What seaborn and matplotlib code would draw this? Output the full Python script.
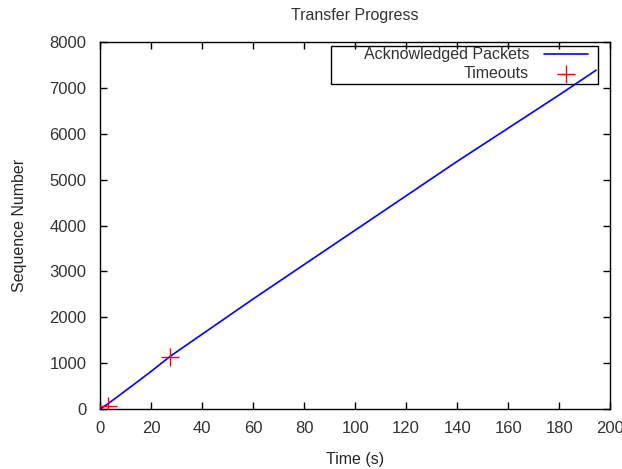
import matplotlib
matplotlib.use("Agg")
import matplotlib.pyplot as plt
from matplotlib.patches import Rectangle
import seaborn as sns

# acknowledged packets over time (piecewise)
ack_time = [0, 3, 10, 20, 27.5, 60, 100, 140, 180, 194.5]
ack_seq = [0, 110, 400, 820, 1150, 2400, 3900, 5400, 6850, 7390]

# timeout events
timeout_time = [3, 27.5]
timeout_seq = [70, 1140]

sns.set_style("ticks")
plt.rcParams['font.family'] = ['Liberation Sans', 'DejaVu Sans']
plt.rcParams['text.color'] = '#333333'

fig = plt.figure(figsize=(6.22, 4.69), dpi=100)
ax = fig.add_axes([0.161, 0.128, 0.820, 0.782])

sns.lineplot(x=ack_time, y=ack_seq, ax=ax, color="#0000ff", linewidth=1.2,
             label="Acknowledged Packets", estimator=None, sort=False, zorder=4)
sns.scatterplot(x=timeout_time, y=timeout_seq, ax=ax, marker="+", color="#ff0000",
                s=150, linewidth=1, label="Timeouts", zorder=5)

ax.set_xlim(0, 200)
ax.set_ylim(0, 8000)
ax.set_xticks(range(0, 201, 20))
ax.set_yticks(range(0, 8001, 1000))
ax.tick_params(direction="in", length=5, top=True, right=True, colors="#000000",
               labelcolor="#333333", labelsize=12, width=1)
ax.tick_params(axis="x", pad=8.5)
ax.tick_params(axis="y", pad=10)
for sp in ax.spines.values():
    sp.set_visible(True)
    sp.set_linewidth(1)
    sp.set_color("#000000")

ax.set_title("Transfer Progress", fontsize=11.5, pad=16)
ax.set_xlabel("Time (s)", fontsize=11.5, labelpad=12)
ax.set_ylabel("Sequence Number", fontsize=11.5, labelpad=16)

# gnuplot-style key: text right-aligned, sample on the right, open box
leg = ax.legend(loc="upper right", bbox_to_anchor=(0.957, 0.986), markerfirst=False,
                frameon=False, fontsize=11.5, borderaxespad=0, borderpad=0,
                handlelength=2.8, handletextpad=0.9, labelspacing=0.25)
ax.add_patch(Rectangle((0.453, 0.886), 0.523, 0.103, transform=ax.transAxes,
                       fill=False, edgecolor="#000000", linewidth=1, zorder=3))

fig.savefig("out.png", dpi=100)
